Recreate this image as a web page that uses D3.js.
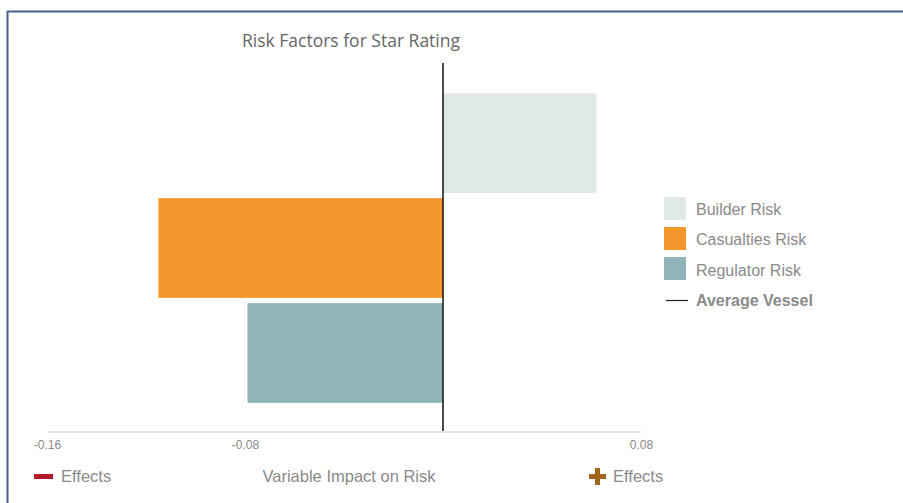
<!DOCTYPE html>
<html>
<head>
<meta charset="utf-8">
<script src="https://cdn.jsdelivr.net/npm/d3@7"></script>
<style>
  body { margin: 0; background: #fff; }
  svg { display: block; }
</style>
</head>
<body>
<svg id="chart"></svg>
<script>
var width = 903;
var height = 503;

var categories = ["Builder Risk", "Casualties Risk", "Regulator Risk"];
var values = [0.062, -0.115, -0.079];
var colors = ["#e1e8e8", "#f3962b", "#91b4ba"];
var tickValues = [-0.16, -0.08, 0.08];

var svg = d3.select("#chart")
	.attr("width", width)
	.attr("height", height);

// frame
svg.append("line")
	.attr("x1", 7).attr("x2", width).attr("y1", 11.5).attr("y2", 11.5)
	.attr("stroke", "#46628f").attr("stroke-width", 2);
svg.append("line")
	.attr("x1", 7.5).attr("x2", 7.5).attr("y1", 11).attr("y2", height)
	.attr("stroke", "#46628f").attr("stroke-width", 2);

var x = d3.scaleLinear()
	.domain([-0.16, 0.08])
	.range([47, 641]);

var y = d3.scaleBand()
	.domain(categories)
	.range([90.5, 405.5])
	.paddingInner(0.05)
	.paddingOuter(0.025);

svg.append("text")
	.attr("x", 351)
	.attr("y", 47)
	.attr("text-anchor", "middle")
	.style("font-family", "'Open Sans', sans-serif")
	.style("font-size", "17.5px")
	.style("fill", "#666")
	.text("Risk Factors for Star Rating");

// axis
var xAxis = d3.axisBottom(x)
	.tickValues(tickValues)
	.tickSize(0)
	.tickPadding(9)
	.tickFormat(function (d) { return d.toFixed(2); });

var axisG = svg.append("g")
	.attr("transform", "translate(0,431.5)")
	.call(xAxis);
axisG.select(".domain").attr("stroke", "#ccc");
axisG.selectAll("text")
	.style("font-family", "'Liberation Sans', Arial, sans-serif")
	.style("font-size", "12px")
	.style("fill", "#888");

// bars
svg.selectAll("rect.bar")
	.data(values)
	.enter()
	.append("rect")
	.attr("class", "bar")
	.attr("x", function (d) { return x(Math.min(0, d)); })
	.attr("y", function (d, i) { return y(categories[i]); })
	.attr("width", function (d) { return Math.abs(x(d) - x(0)); })
	.attr("height", y.bandwidth())
	.attr("fill", function (d, i) { return colors[i]; });

// average vessel line
svg.append("line")
	.attr("x1", x(0)).attr("x2", x(0))
	.attr("y1", 63).attr("y2", 431)
	.attr("stroke", "#111").attr("stroke-width", 1.5);

// legend
var legend = svg.append("g")
	.attr("transform", "translate(664,197)");

categories.forEach(function (c, i) {
	legend.append("rect")
		.attr("x", 0)
		.attr("y", i * 30)
		.attr("width", 22)
		.attr("height", 23)
		.attr("fill", colors[i]);
	legend.append("text")
		.attr("x", 32)
		.attr("y", i * 30.3 + 18)
		.style("font-family", "'Liberation Sans', Arial, sans-serif")
		.style("font-size", "16px")
		.style("fill", "#8a8a8a")
		.text(c);
});
legend.append("line")
	.attr("x1", 2).attr("x2", 24)
	.attr("y1", 103.5).attr("y2", 103.5)
	.attr("stroke", "#222").attr("stroke-width", 1.2);
legend.append("text")
	.attr("x", 32)
	.attr("y", 109)
	.style("font-family", "'Liberation Sans', Arial, sans-serif")
	.style("font-size", "16px")
	.style("font-weight", "bold")
	.style("fill", "#8a8a8a")
	.text("Average Vessel");

// bottom labels
var footFont = "'Liberation Sans', Arial, sans-serif";
svg.append("rect")
	.attr("x", 34).attr("y", 474).attr("width", 19).attr("height", 5)
	.attr("fill", "#b5192a");
svg.append("text")
	.attr("x", 61).attr("y", 482)
	.style("font-family", footFont).style("font-size", "16.5px").style("fill", "#8a8a8a")
	.text("Effects");
svg.append("text")
	.attr("x", 349).attr("y", 482)
	.attr("text-anchor", "middle")
	.style("font-family", footFont).style("font-size", "16.5px").style("fill", "#8a8a8a")
	.text("Variable Impact on Risk");
svg.append("path")
	.attr("d", "M595,468h5v6h6v5h-6v6h-5v-6h-6v-5h6z")
	.attr("fill", "#a0651a");
svg.append("text")
	.attr("x", 613).attr("y", 482)
	.style("font-family", footFont).style("font-size", "16.5px").style("fill", "#8a8a8a")
	.text("Effects");
</script>
</body>
</html>
